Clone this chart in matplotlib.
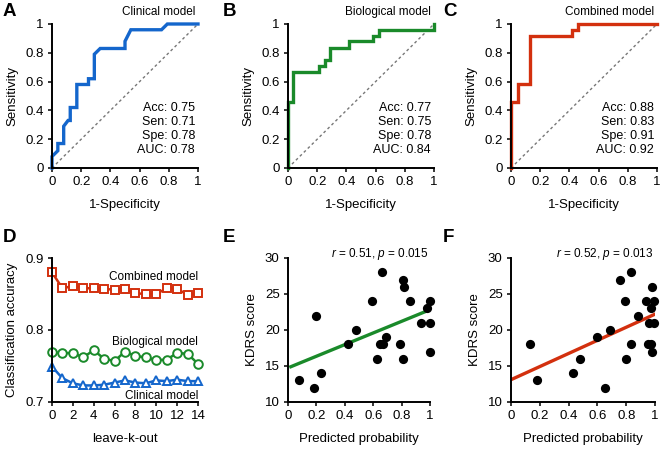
import numpy as np
import matplotlib
matplotlib.use("Agg")
import matplotlib.pyplot as plt

plt.rcParams['font.family'] = ['Liberation Sans', 'DejaVu Sans']
plt.rcParams['mathtext.fontset'] = 'custom'
plt.rcParams['mathtext.rm'] = 'Liberation Sans'
plt.rcParams['mathtext.it'] = 'Liberation Sans:italic'

blue = '#1466cc'
green = '#1a8a2a'
red = '#d3300e'

# ROC curves (1-specificity, sensitivity)
clin_fpr = [0, 0, 0.04, 0.04, 0.08, 0.08, 0.11, 0.125, 0.125, 0.17, 0.17, 0.25, 0.25,
            0.29, 0.29, 0.33, 0.50, 0.50, 0.54, 0.75, 0.79, 1.0]
clin_tpr = [0, 0.08, 0.12, 0.17, 0.17, 0.29, 0.33, 0.33, 0.42, 0.42, 0.58, 0.58, 0.62,
            0.62, 0.79, 0.83, 0.83, 0.88, 0.96, 0.96, 1.0, 1.0]
bio_fpr = [0, 0, 0.035, 0.035, 0.21, 0.21, 0.25, 0.25, 0.29, 0.29, 0.42, 0.42,
           0.58, 0.58, 0.62, 0.62, 1.0, 1.0]
bio_tpr = [0, 0.46, 0.46, 0.67, 0.67, 0.71, 0.71, 0.75, 0.75, 0.83, 0.83, 0.88,
           0.88, 0.92, 0.92, 0.96, 0.96, 1.0]
comb_fpr = [0, 0, 0.045, 0.045, 0.13, 0.13, 0.42, 0.42, 0.46, 0.46, 1.0]
comb_tpr = [0, 0.46, 0.46, 0.58, 0.58, 0.92, 0.92, 0.96, 0.96, 1.0, 1.0]

roc_titles = ["Clinical model", "Biological model", "Combined model"]
roc_stats = ["Acc: 0.75\nSen: 0.71\nSpe: 0.78\nAUC: 0.78",
             "Acc: 0.77\nSen: 0.75\nSpe: 0.78\nAUC: 0.84",
             "Acc: 0.88\nSen: 0.83\nSpe: 0.91\nAUC: 0.92"]
roc_ticks = [0, 0.2, 0.4, 0.6, 0.8, 1]
roc_ticklabels = ["0", "0.2", "0.4", "0.6", "0.8", "1"]

# leave-k-out accuracy
k = list(range(15))
acc_comb = [0.880, 0.858, 0.861, 0.858, 0.858, 0.857, 0.856, 0.857, 0.851, 0.850,
            0.850, 0.858, 0.857, 0.849, 0.851]
acc_bio = [0.769, 0.768, 0.768, 0.762, 0.772, 0.760, 0.757, 0.770, 0.764, 0.762,
           0.758, 0.759, 0.768, 0.767, 0.753]
acc_clin = [0.749, 0.733, 0.726, 0.723, 0.723, 0.724, 0.727, 0.730, 0.727, 0.726,
            0.730, 0.729, 0.731, 0.729, 0.729]

# predicted probability vs KDRS score
e_prob = [0.08, 0.18, 0.20, 0.23, 0.42, 0.48, 0.595, 0.63, 0.65, 0.66, 0.67, 0.69,
          0.79, 0.81, 0.81, 0.82, 0.86, 0.94, 0.98, 1.0, 1.0, 1.0]
e_kdrs = [13, 12, 22, 14, 18, 20, 24, 16, 18, 28, 18, 19, 18, 27, 16, 26, 24, 21, 23, 24, 21, 17]
e_fit_x = [0.02, 0.985]
e_fit_y = [14.9, 22.7]

f_prob = [0.13, 0.18, 0.43, 0.48, 0.60, 0.69, 0.76, 0.79, 0.83, 0.83, 0.80, 0.65,
          0.88, 0.935, 0.95, 0.96, 0.97, 0.97, 0.98, 0.99, 0.995, 0.98]
f_kdrs = [18, 13, 14, 16, 19, 20, 27, 24, 28, 18, 16, 12, 22, 24, 18, 21, 18, 23, 26, 24, 21, 17]
f_fit_x = [0.0, 1.0]
f_fit_y = [13.1, 22.2]

fig = plt.figure(figsize=(6.6, 4.5), dpi=100)


def style(ax):
    for s in ['top', 'right']:
        ax.spines[s].set_visible(False)
    for s in ['left', 'bottom']:
        ax.spines[s].set_linewidth(1.4)
    ax.tick_params(direction='out', length=3, width=1.1, labelsize=9.5, pad=3)


W = 146 / 660
H = 144 / 450
lefts = [52 / 660, 288 / 660, 511 / 660]
top_bottom = 1 - 168 / 450
bot_bottom = 1 - 402 / 450

roc_data = [(clin_fpr, clin_tpr, blue), (bio_fpr, bio_tpr, green), (comb_fpr, comb_tpr, red)]
for i, (fpr, tpr, c) in enumerate(roc_data):
    ax = fig.add_axes([lefts[i], top_bottom, W, H])
    style(ax)
    ax.plot([0, 1], [0, 1], color='#777777', ls=(0, (2, 2)), lw=1)
    ax.plot(fpr, tpr, color=c, lw=2.4, clip_on=False, solid_joinstyle='miter')
    ax.set_xlim(0, 1)
    ax.set_ylim(0, 1)
    ax.set_xticks(roc_ticks)
    ax.set_xticklabels(roc_ticklabels)
    ax.set_yticks(roc_ticks)
    ax.set_yticklabels(roc_ticklabels)
    ax.set_xlabel("1-Specificity", fontsize=9.5, labelpad=8)
    ax.set_ylabel("Sensitivity", fontsize=9.5, labelpad=5)
    ax.text(0.98, 1.08, roc_titles[i], transform=ax.transAxes, ha='right', va='center', fontsize=8.5)
    ax.text(0.98, 0.27, roc_stats[i], transform=ax.transAxes, ha='right', va='center',
            fontsize=9, multialignment='right', linespacing=1.2)

# D
ax = fig.add_axes([lefts[0], bot_bottom, W, H])
style(ax)
ax.plot(k, acc_comb, color=red, lw=1.8, marker='s', ms=5.8, mfc='white', mec=red, mew=1.4, clip_on=False)
ax.plot(k, acc_bio, color=green, lw=1.8, marker='o', ms=6.2, mfc='white', mec=green, mew=1.4, clip_on=False)
ax.plot(k, acc_clin, color=blue, lw=1.8, marker='^', ms=6.0, mfc='white', mec=blue, mew=1.4, clip_on=False)
ax.set_xlim(0, 14)
ax.set_ylim(0.7, 0.9)
ax.set_xticks(range(0, 15, 2))
ax.set_yticks([0.7, 0.8, 0.9])
ax.set_yticklabels(["0.7", "0.8", "0.9"])
ax.set_xlabel("leave-k-out", fontsize=9.5, labelpad=8)
ax.set_ylabel("Classification accuracy", fontsize=9.5, labelpad=5)
ax.text(14, 0.873, "Combined model", ha='right', va='center', fontsize=8.5)
ax.text(14, 0.784, "Biological model", ha='right', va='center', fontsize=8.5)
ax.text(14, 0.709, "Clinical model", ha='right', va='center', fontsize=8.5)

# E, F
scat = [(e_prob, e_kdrs, e_fit_x, e_fit_y, green, "$r$ = 0.51, $p$ = 0.015", 288, 142),
        (f_prob, f_kdrs, f_fit_x, f_fit_y, red, "$r$ = 0.52, $p$ = 0.013", 511, 144)]
for prob, kd, fx, fy, c, txt, left, w in scat:
    ax = fig.add_axes([left / 660, bot_bottom, w / 660, H])
    style(ax)
    ax.scatter(prob, kd, s=44, color='black', zorder=3, clip_on=False, linewidths=0)
    ax.plot(fx, fy, color=c, lw=2.4, zorder=2)
    ax.set_xlim(0, 1)
    ax.set_ylim(10, 30)
    ax.set_xticks(roc_ticks)
    ax.set_xticklabels(roc_ticklabels)
    ax.set_yticks([10, 15, 20, 25, 30])
    ax.set_xlabel("Predicted probability", fontsize=9.5, labelpad=8)
    ax.set_ylabel("KDRS score", fontsize=9.5, labelpad=5)
    ax.text(0.99, 1.03, txt, transform=ax.transAxes, ha='right', va='center', fontsize=8.5)

letters = [("A", 3, 11), ("B", 223, 11), ("C", 443, 11),
           ("D", 3, 238), ("E", 223, 238), ("F", 443, 238)]
for lt, px, py in letters:
    fig.text(px / 660, 1 - py / 450, lt, fontsize=13.5, fontweight='bold', ha='left', va='center')

fig.savefig("out.png", dpi=100)
